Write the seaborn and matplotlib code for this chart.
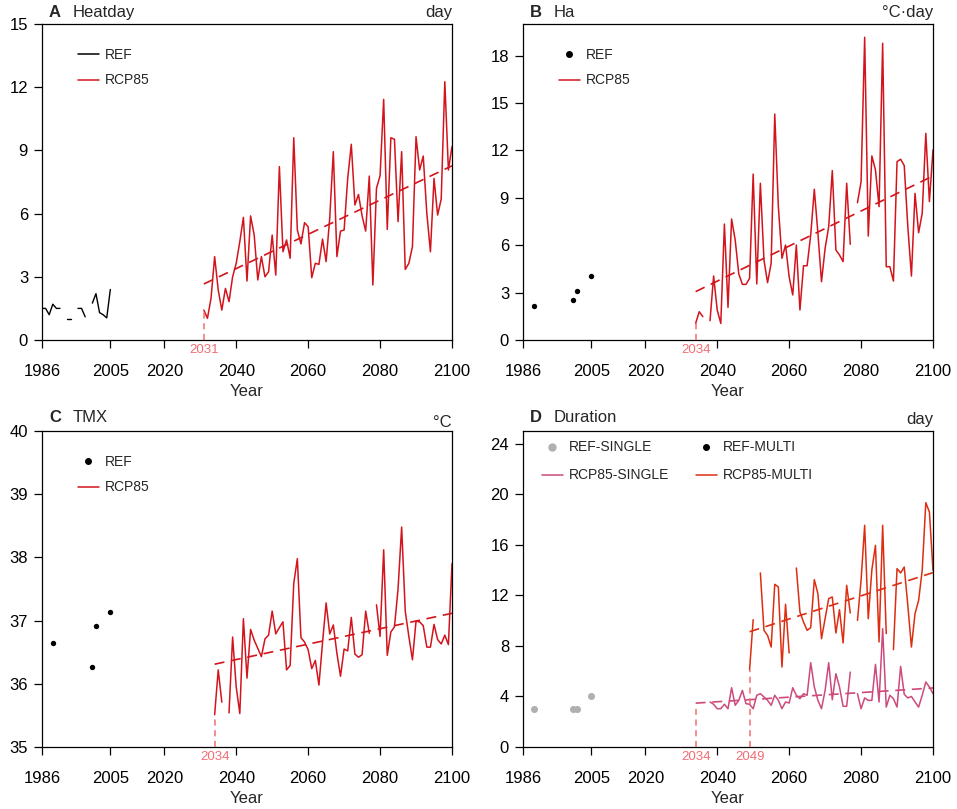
import numpy as np
import pandas as pd
import matplotlib
matplotlib.use("Agg")
import matplotlib.pyplot as plt
from matplotlib.lines import Line2D
import seaborn as sns

nan = np.nan

# ---------------- data ----------------
ref_years = list(range(1986, 2006))
heatday_ref = [1.5, 1.5, 1.2, 1.7, 1.5, 1.5, nan, 1.0, 1.0, nan,
               1.5, 1.5, 1.1, nan, 1.75, 2.2, 1.3, 1.2, 1.05, 2.4]

heatday_years = list(range(2031, 2101))
heatday_rcp = [1.42, 1.03, 1.98, 3.96, 2.37, 1.42, 2.45, 1.82, 3.0, 3.64,
               4.67, 5.82, 2.8, 5.89, 4.98, 2.85, 3.96, 3.0, 3.24, 4.98,
               3.08, 8.23, 4.19, 4.75, 3.88, 9.6, 5.22, 4.56, 5.57, 5.38,
               2.96, 3.64, 3.59, 4.79, 3.72, 5.78, 8.94, 3.96, 5.17, 5.22,
               7.67, 9.29, 6.41, 6.91, 5.89, 5.17, 7.78, 2.61, 7.2, 7.8,
               11.42, 5.25, 9.6, 9.53, 5.62, 8.94, 3.35, 3.64, 4.43, 9.65,
               8.07, 8.73, 6.01, 4.19, 7.67, 5.93, 6.69, 12.26, 8.07, 9.18]

ref_dot_years = [1989, 2000, 2001, 2005]
ha_ref = [2.15, 2.53, 3.1, 4.03]
tmx_ref = [36.65, 36.27, 36.91, 37.13]
dur_ref_single = [3.0, 3.0, 3.0, 4.0]

rcp_years = list(range(2034, 2101))
ha_rcp = [1.05, 1.79, 1.48, nan, 1.22, 4.05, 1.9, 1.05, 7.34, 2.07,
          7.66, 6.33, 4.18, 3.52, 3.52, 3.9, 10.5, 3.55, 9.92, 5.06,
          3.63, 4.85, 14.3, 8.44, 5.17, 6.01, 4.0, 2.85, 6.01, 1.9,
          4.7, 4.7, 6.65, 9.54, 6.75, 3.69, 5.8, 7.17, 10.72, 5.7,
          5.38, 4.96, 9.92, 6.06, nan, 8.69, 10.02, 19.16, 6.58, 11.65,
          10.76, 8.44, 18.78, 4.64, 4.64, 3.73, 11.29, 11.44, 11.04, 7.17,
          4.05, 9.28, 6.79, 8.02, 13.08, 8.76, 12.03]

tmx_rcp = [35.51, 36.22, 35.71, nan, 35.54, 36.74, 35.95, 35.53, 37.03, 36.09,
           36.86, 36.69, 36.56, 36.43, 36.71, 36.77, 37.15, 36.79, 36.89, 36.98,
           36.22, 36.29, 37.59, 37.98, 36.73, 36.66, 36.54, 36.24, 36.37, 35.98,
           36.65, 37.28, 36.79, 36.93, 36.48, 36.12, 36.55, 36.52, 37.05, 36.47,
           36.42, 36.46, 37.15, 36.8, nan, 37.25, 36.75, 38.12, 36.45, 36.82,
           36.9, 37.5, 38.48, 37.15, 36.75, 36.38, 36.99, 36.98, 36.92, 36.58,
           36.58, 36.94, 36.7, 36.63, 36.77, 36.62, 37.9]

dur_single_rcp = [3.0, nan, nan, nan, 3.56, 3.38, 3.03, 3.03, 3.38, 3.03,
                  4.69, 3.3, 3.69, 4.48, 3.43, 3.38, 3.03, 4.09, 4.22, 3.96,
                  3.69, 3.3, 4.09, 3.69, 3.03, 3.56, 3.48, 4.69, 4.09, 3.82,
                  4.22, 4.09, 6.67, 4.75, 3.69, 3.03, 4.48, 6.67, 3.74, 5.8,
                  4.75, 3.22, 3.22, 5.93, nan, 4.22, 3.03, 3.88, 3.69, 3.69,
                  6.54, 3.56, 9.36, 3.16, 4.09, 3.82, 3.16, 6.38, 4.17, 3.88,
                  4.0, 3.56, 3.16, 4.09, 5.14, 4.75, 4.22]

multi_years = list(range(2049, 2101))
dur_multi_rcp = [6.12, 10.07, nan, 13.77, 9.23, 8.83, 7.91, 12.87, 12.66, 6.33,
                 11.29, 7.44, nan, 14.16, 10.68, 9.89, 9.23, 9.44, 13.24, 12.13,
                 8.57, 10.15, 11.74, 11.87, 9.02, 10.86, 8.23, 12.79, 10.6, nan,
                 10.02, 13.19, 17.54, 10.15, 14.03, 15.95, 8.31, 17.54, 8.97, nan,
                 7.7, 14.11, 13.77, 14.24, 11.21, 7.91, 10.55, 11.6, 13.98, 19.33,
                 18.59, 13.98]

xticks = [1986, 2005, 2020, 2040, 2060, 2080, 2100]

# ---------------- style ----------------
sns.set_theme(style="ticks")
plt.rcParams["font.family"] = ["Liberation Sans", "DejaVu Sans"]
plt.rcParams["axes.linewidth"] = 0.9
plt.rcParams["xtick.major.width"] = 0.9
plt.rcParams["ytick.major.width"] = 0.9

RED = "#d3141c"
PINK = "#cc4a7c"
ORANGE = "#dd2e12"
MARK = "#f26d74"
GREY = "#b0b0b0"

fig = plt.figure(figsize=(9.57, 8.09), dpi=100)
W, H = 957, 809


def make_ax(left, top, right, bottom):
    return fig.add_axes([left / W, 1 - bottom / H, (right - left) / W, (bottom - top) / H])


def seg_frame(years, vals):
    df = pd.DataFrame({"year": years, "val": vals})
    df["seg"] = df["val"].isna().cumsum()
    return df.dropna()


def draw_series(ax, years, vals, color, lw=1.1):
    df = seg_frame(years, vals)
    sns.lineplot(data=df, x="year", y="val", units="seg", estimator=None,
                 color=color, lw=lw, ax=ax, legend=False)


def draw_trend(ax, years, vals, color):
    df = pd.DataFrame({"year": years, "val": vals}).dropna()
    sns.regplot(data=df, x="year", y="val", scatter=False, ci=None, ax=ax,
                line_kws=dict(color=color, lw=1.2, ls=(0, (6, 4))))


def mark_start(ax, years, vals):
    df = pd.DataFrame({"year": years, "val": vals}).dropna()
    y0, v0 = df.iloc[0]["year"], df.iloc[0]["val"]
    ylo = ax.get_ylim()[0]
    ax.plot([y0, y0], [ylo, v0], color=MARK, lw=1.1, ls=(0, (4, 3)), zorder=3)
    ax.annotate(str(int(y0)), xy=(y0, 0), xycoords=("data", "axes fraction"),
                xytext=(0, -7.5), textcoords="offset points", ha="center", va="center",
                color=MARK, fontsize=9.5)


def style_ax(ax, ylim, yticks, letter, name, unit, title_y=1.035, unit_y=1.035):
    ax.set_xlim(1986, 2100)
    ax.set_ylim(*ylim)
    ax.set_xticks(xticks)
    ax.set_yticks(yticks)
    ax.tick_params(axis="x", direction="out", length=6, pad=11, labelsize=12, colors="black")
    ax.tick_params(axis="y", direction="out", length=6, pad=4, labelsize=12, colors="black")
    for s in ax.spines.values():
        s.set_visible(True)
        s.set_color("black")
    ax.set_xlabel("Year", fontsize=12, labelpad=4)
    ax.set_ylabel("")
    ax.text(0.017, title_y, letter, transform=ax.transAxes, fontsize=12,
            fontweight="bold", ha="left", va="center")
    ax.text(0.075, title_y, name, transform=ax.transAxes, fontsize=12,
            ha="left", va="center")
    ax.text(1.0, unit_y, unit, transform=ax.transAxes, fontsize=12, ha="right", va="center")


leg_kw = dict(frameon=False, fontsize=10, handlelength=1.5, handletextpad=0.45,
              labelspacing=0.8, borderpad=0, borderaxespad=0, loc="upper left")

# ---------------- Panel A ----------------
axA = make_ax(42, 24, 452, 340)
axA.set_ylim(0, 15)
draw_series(axA, ref_years, heatday_ref, "black", lw=1.0)
draw_series(axA, heatday_years, heatday_rcp, RED)
draw_trend(axA, heatday_years, heatday_rcp, RED)
style_ax(axA, (0, 15), [0, 3, 6, 9, 12, 15], "A", "Heatday", "day")
mark_start(axA, heatday_years, heatday_rcp)
axA.legend(handles=[Line2D([], [], color="black", lw=1.1, label="REF"),
                    Line2D([], [], color=RED, lw=1.1, label="RCP85")],
           bbox_to_anchor=(0.088, 0.923), **leg_kw)

# ---------------- Panel B ----------------
axB = make_ax(523, 24, 933, 340)
axB.set_ylim(0, 20)
sns.scatterplot(x=ref_dot_years, y=ha_ref, color="black", s=15, linewidth=0, ax=axB)
draw_series(axB, rcp_years, ha_rcp, RED)
draw_trend(axB, rcp_years, ha_rcp, RED)
style_ax(axB, (0, 20), [0, 3, 6, 9, 12, 15, 18], "B", "Ha", "°C·day")
mark_start(axB, rcp_years, ha_rcp)
axB.legend(handles=[Line2D([], [], color="black", lw=0, marker="o", ms=4, label="REF"),
                    Line2D([], [], color=RED, lw=1.1, label="RCP85")],
           bbox_to_anchor=(0.088, 0.923), **leg_kw)

# ---------------- Panel C ----------------
axC = make_ax(42, 431, 452, 747)
axC.set_ylim(35, 40)
sns.scatterplot(x=ref_dot_years, y=tmx_ref, color="black", s=15, linewidth=0, ax=axC)
draw_series(axC, rcp_years, tmx_rcp, RED)
draw_trend(axC, rcp_years, tmx_rcp, RED)
style_ax(axC, (35, 40), [35, 36, 37, 38, 39, 40], "C", "TMX", "°C",
         title_y=1.044, unit_y=1.028)
mark_start(axC, rcp_years, tmx_rcp)
axC.legend(handles=[Line2D([], [], color="black", lw=0, marker="o", ms=4, label="REF"),
                    Line2D([], [], color=RED, lw=1.1, label="RCP85")],
           bbox_to_anchor=(0.088, 0.923), **leg_kw)

# ---------------- Panel D ----------------
axD = make_ax(523, 431, 933, 747)
axD.set_ylim(0, 25)
sns.scatterplot(x=ref_dot_years, y=dur_ref_single, color=GREY, s=26, linewidth=0, ax=axD)
draw_series(axD, rcp_years, dur_single_rcp, PINK)
draw_series(axD, multi_years, dur_multi_rcp, ORANGE)
draw_trend(axD, rcp_years, dur_single_rcp, PINK)
draw_trend(axD, multi_years, dur_multi_rcp, ORANGE)
style_ax(axD, (0, 25), [0, 4, 8, 12, 16, 20, 24], "D", "Duration", "day",
         title_y=1.042, unit_y=1.035)
mark_start(axD, rcp_years, dur_single_rcp)
mark_start(axD, multi_years, dur_multi_rcp)
legD = dict(leg_kw)
legD["labelspacing"] = 1.0
axD.legend(handles=[Line2D([], [], color=GREY, lw=0, marker="o", ms=5, label="REF-SINGLE"),
                    Line2D([], [], color=PINK, lw=1.1, label="RCP85-SINGLE"),
                    Line2D([], [], color="black", lw=0, marker="o", ms=4, label="REF-MULTI"),
                    Line2D([], [], color=ORANGE, lw=1.1, label="RCP85-MULTI")],
           ncol=2, columnspacing=1.9, bbox_to_anchor=(0.046, 0.97), **legD)

fig.savefig("out.png", dpi=100)
